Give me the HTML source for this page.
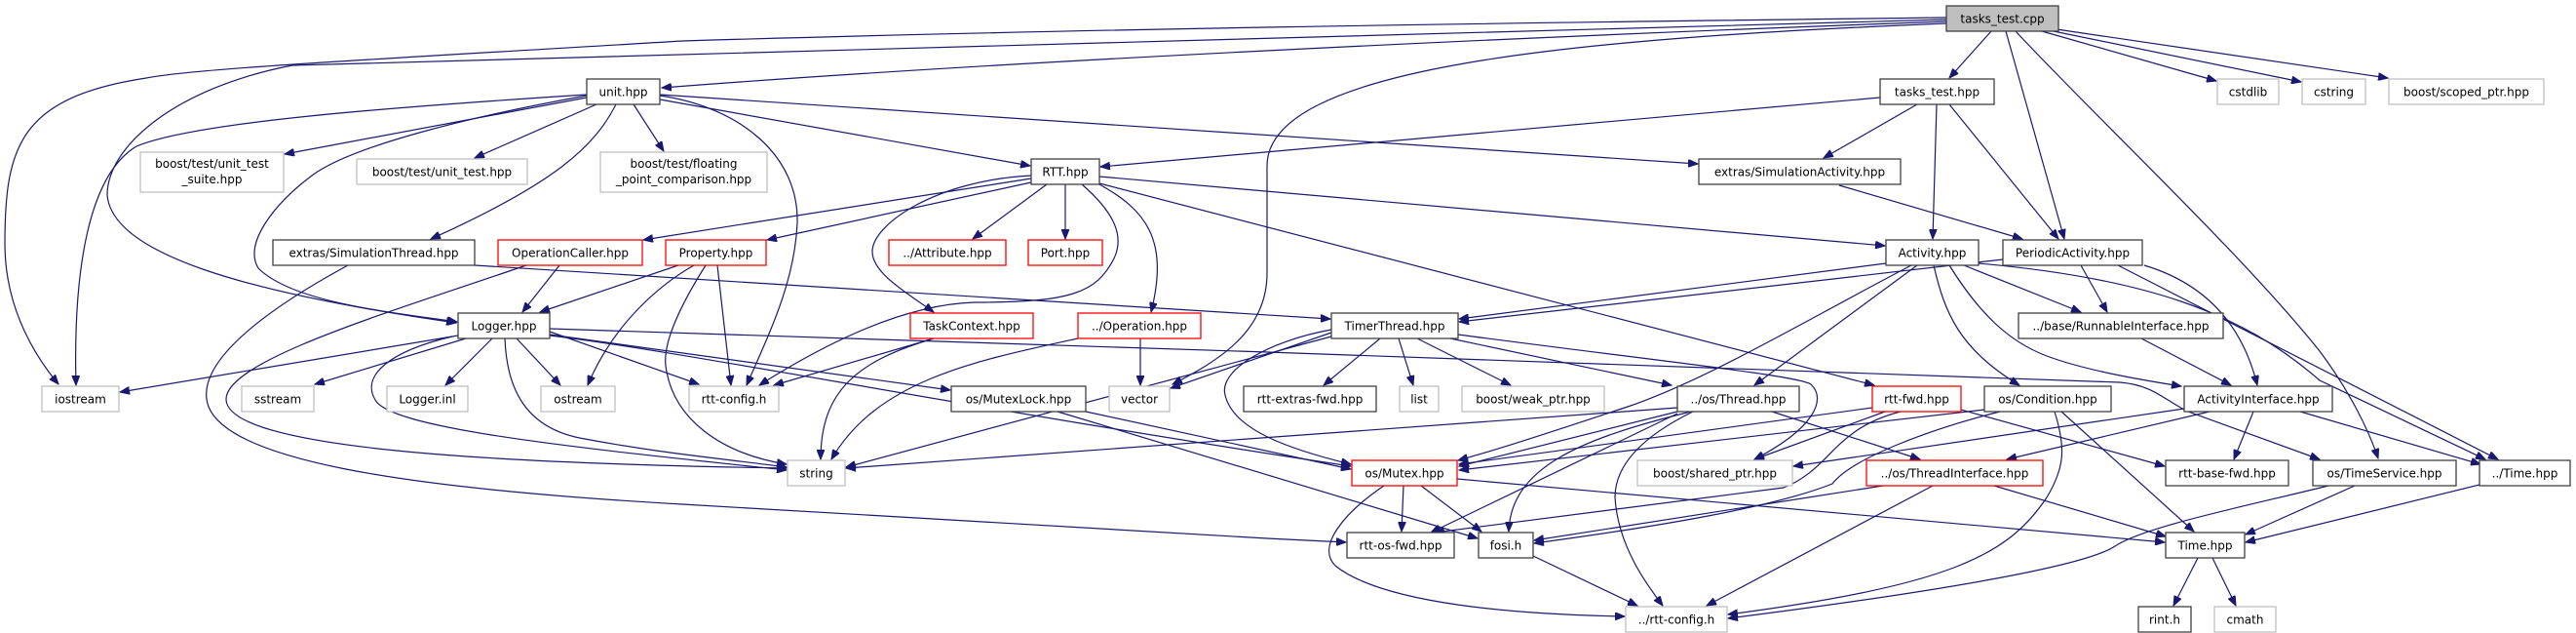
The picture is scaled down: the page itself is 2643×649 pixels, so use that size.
<!DOCTYPE html>
<html><head><meta charset="utf-8"><style>
html,body{margin:0;padding:0;background:#fff;}
svg{display:block;}
text{font-family:"DejaVu Sans","Liberation Sans",sans-serif;font-size:12px;fill:#000;text-anchor:middle;}
.b{fill:#fff;stroke:#404040;stroke-width:1.3;}
.g{fill:#fff;stroke:#bfbfbf;stroke-width:1.3;}
.r{fill:#fff;stroke:#ff0000;stroke-width:1.3;}
.e{fill:none;stroke:#191970;stroke-width:1.2;marker-end:url(#a);}
</style></head><body>
<svg width="2643" height="649" viewBox="0 0 2643 649" xmlns="http://www.w3.org/2000/svg">
<defs><marker id="a" markerUnits="userSpaceOnUse" markerWidth="11" markerHeight="8" refX="10" refY="4" orient="auto"><path d="M0,0 L10,4 L0,8 z" fill="#191970" stroke="#191970"/></marker></defs>
<g>
<path class="e" d="M1997,18 C1500,24 1100,30 700,42 C400,60 200,70 150,80 C20,100 5,150 5,250 C5,320 40,370 60,394"/>
<path class="e" d="M1997,20 C1500,30 900,55 300,67 C180,90 110,150 110,200 C115,260 250,300 468,331"/>
<path class="e" d="M1997,24 C1600,40 1300,70 1300,170 L1300,280 C1300,340 1250,370 1203,394"/>
<path class="e" d="M1997,22 C1500,40 1000,65 679,90"/>
<path class="e" d="M2043,32 L2000,80"/>
<path class="e" d="M2058,32 L2118,245"/>
<path class="e" d="M2068,32 C2150,120 2300,260 2380,360 C2410,400 2430,440 2440,470"/>
<path class="e" d="M2095,32 L2274,83"/>
<path class="e" d="M2102,31 L2361,84"/>
<path class="e" d="M2110,30 L2450,80"/>
<path class="e" d="M602,100 L292,158"/>
<path class="e" d="M612,107 L487,162"/>
<path class="e" d="M650,107 L681,155"/>
<path class="e" d="M632,107 C610,150 571,187 442,245"/>
<path class="e" d="M602,98 C480,120 360,150 320,180 C280,210 250,250 265,275 C300,310 400,320 469,330"/>
<path class="e" d="M602,97 C400,110 200,125 140,150 C90,180 75,280 78,395"/>
<path class="e" d="M677,98 C760,110 820,160 818,229 C815,290 790,340 766,395"/>
<path class="e" d="M677,102 L1057,170"/>
<path class="e" d="M677,97 L1742,168"/>
<path class="e" d="M1929,100 L1129,171"/>
<path class="e" d="M1967,107 L1871,162"/>
<path class="e" d="M1987,107 L1983,245"/>
<path class="e" d="M2000,107 L2112,245"/>
<path class="e" d="M1887,190 L2075,245"/>
<path class="e" d="M1058,183 L660,246"/>
<path class="e" d="M1058,187 L787,246"/>
<path class="e" d="M1058,180 C960,185 895,230 895,258 C895,280 930,300 958,320"/>
<path class="e" d="M1074,189 L998,245"/>
<path class="e" d="M1093,189 L1093,245"/>
<path class="e" d="M1110,189 C1140,215 1155,240 1143,265 C1125,300 1100,310 1000,310 C930,312 850,350 779,395"/>
<path class="e" d="M1128,189 C1175,215 1200,245 1181,320"/>
<path class="e" d="M1128,181 L1934,252"/>
<path class="e" d="M1128,188 L1923,395"/>
<path class="e" d="M487,272 L1365,327"/>
<path class="e" d="M357,272 C250,330 200,380 214,417 C235,470 400,500 700,517 L1300,552 L1381,556"/>
<path class="e" d="M574,272 L536,320"/>
<path class="e" d="M540,272 C400,320 230,370 232,410 C235,460 500,475 807,480"/>
<path class="e" d="M696,272 L554,320"/>
<path class="e" d="M712,272 C680,290 630,330 603,395"/>
<path class="e" d="M736,272 L750,395"/>
<path class="e" d="M724,272 C700,310 680,350 683,375 C690,430 740,465 807,476"/>
<path class="e" d="M470,344 L123,402"/>
<path class="e" d="M478,347 L323,394"/>
<path class="e" d="M505,347 L457,395"/>
<path class="e" d="M530,347 L575,395"/>
<path class="e" d="M564,340 L717,394"/>
<path class="e" d="M518,347 C520,400 540,440 600,450 C680,465 740,470 807,479"/>
<path class="e" d="M464,345 C400,360 370,385 385,410 C400,440 600,460 807,482"/>
<path class="e" d="M564,343 L975,400"/>
<path class="e" d="M564,344 C700,360 1000,420 1386,478"/>
<path class="e" d="M564,337 L1300,361 L2175,392 C2210,395 2220,410 2245,422 L2380,471"/>
<path class="e" d="M958,347 L794,395"/>
<path class="e" d="M958,347 C880,370 842,400 842,471"/>
<path class="e" d="M1170,347 L1170,395"/>
<path class="e" d="M1106,347 C1000,370 900,390 853,471"/>
<path class="e" d="M1114,422 L1386,481"/>
<path class="e" d="M1085,422 L1516,552"/>
<path class="e" d="M1366,341 L1201,398"/>
<path class="e" d="M1366,345 L868,479"/>
<path class="e" d="M1366,338 C1300,350 1250,380 1257,405 C1265,440 1320,460 1386,476"/>
<path class="e" d="M1416,347 L1358,395"/>
<path class="e" d="M1435,347 L1450,395"/>
<path class="e" d="M1454,347 L1550,395"/>
<path class="e" d="M1488,347 L1715,395"/>
<path class="e" d="M1496,343 C1700,370 1845,385 1858,394 C1875,410 1860,440 1800,471"/>
<path class="e" d="M1935,270 L1497,327"/>
<path class="e" d="M1961,272 C1850,330 1750,390 1670,417 C1600,440 1540,460 1496,472"/>
<path class="e" d="M1967,272 L1800,395"/>
<path class="e" d="M1984,272 C1995,320 2010,358 2072,395"/>
<path class="e" d="M2000,272 C2030,320 2060,350 2100,365 C2140,380 2200,390 2238,396"/>
<path class="e" d="M2015,272 L2135,320"/>
<path class="e" d="M2030,270 C2200,285 2300,320 2380,390 L2550,471"/>
<path class="e" d="M2055,266 L1497,330"/>
<path class="e" d="M2135,272 L2162,320"/>
<path class="e" d="M2200,272 C2260,290 2300,330 2316,395"/>
<path class="e" d="M2173,272 L2563,471"/>
<path class="e" d="M2197,347 L2289,395"/>
<path class="e" d="M2036,420 L1497,482"/>
<path class="e" d="M2052,422 C1980,440 1900,470 1880,496 C1820,520 1700,540 1574,557"/>
<path class="e" d="M2115,422 L2251,545"/>
<path class="e" d="M2108,422 C2120,460 2118,480 2100,510 C2060,570 2000,600 1773,630"/>
<path class="e" d="M2267,422 L2059,471"/>
<path class="e" d="M2241,419 L1840,478"/>
<path class="e" d="M2312,422 L2292,471"/>
<path class="e" d="M2360,422 L2545,476"/>
<path class="e" d="M1921,418 L1497,476"/>
<path class="e" d="M1934,422 L1800,471"/>
<path class="e" d="M2012,420 L2221,478"/>
<path class="e" d="M1950,422 C1880,440 1880,480 1830,500 L1472,546"/>
<path class="e" d="M1721,418 L868,480"/>
<path class="e" d="M1721,422 L1497,478"/>
<path class="e" d="M1721,424 L1468,546"/>
<path class="e" d="M1735,422 C1620,450 1550,480 1548,545"/>
<path class="e" d="M1737,422 C1680,450 1657,480 1657,510 C1660,560 1690,600 1706,621"/>
<path class="e" d="M1818,422 L1970,471"/>
<path class="e" d="M1440,498 L1438,545"/>
<path class="e" d="M1458,498 L1520,545"/>
<path class="e" d="M1495,491 L2221,556"/>
<path class="e" d="M1420,498 C1380,525 1350,560 1370,580 C1420,620 1560,630 1667,632"/>
<path class="e" d="M1932,498 L1574,554"/>
<path class="e" d="M1983,498 L1751,621"/>
<path class="e" d="M2046,498 L2222,550"/>
<path class="e" d="M1573,570 L1680,621"/>
<path class="e" d="M2416,498 L2304,548"/>
<path class="e" d="M2389,498 C2300,520 2200,540 2170,560 C2140,580 2000,605 1773,634"/>
<path class="e" d="M2544,497 L2304,556"/>
<path class="e" d="M2255,572 L2230,621"/>
<path class="e" d="M2270,572 L2294,621"/>
</g>
<g>
<rect x="1997" y="6" width="115" height="26" style="fill:#bfbfbf;stroke:#404040;stroke-width:1.3"/><text x="2054.5" y="23.5">tasks_test.cpp</text>
<rect class="b" x="602" y="81" width="75" height="26"/><text x="639.5" y="98.5">unit.hpp</text>
<rect class="g" x="144" y="156" width="147" height="41"/><text x="217.5" y="172">boost/test/unit_test</text><text x="217.5" y="188">_suite.hpp</text>
<rect class="g" x="366" y="163" width="175" height="26"/><text x="453.5" y="180.5">boost/test/unit_test.hpp</text>
<rect class="g" x="616" y="156" width="171" height="41"/><text x="701.5" y="172">boost/test/floating</text><text x="701.5" y="188">_point_comparison.hpp</text>
<rect class="b" x="280" y="246" width="207" height="26"/><text x="383.5" y="263.5">extras/SimulationThread.hpp</text>
<rect class="r" x="511" y="246" width="148" height="26"/><text x="585" y="263.5">OperationCaller.hpp</text>
<rect class="r" x="683" y="246" width="103" height="26"/><text x="734.5" y="263.5">Property.hpp</text>
<rect class="b" x="470" y="321" width="94" height="26"/><text x="517" y="338.5">Logger.hpp</text>
<rect class="g" x="43" y="396" width="79" height="26"/><text x="82.5" y="413.5">iostream</text>
<rect class="g" x="248" y="396" width="74" height="26"/><text x="285" y="413.5">sstream</text>
<rect class="g" x="397" y="396" width="83" height="26"/><text x="438.5" y="413.5">Logger.inl</text>
<rect class="g" x="555" y="396" width="76" height="26"/><text x="593" y="413.5">ostream</text>
<rect class="g" x="707" y="396" width="92" height="26"/><text x="753" y="413.5">rtt-config.h</text>
<rect class="b" x="976" y="396" width="138" height="26"/><text x="1045" y="413.5">os/MutexLock.hpp</text>
<rect class="g" x="1138" y="396" width="62" height="26"/><text x="1169" y="413.5">vector</text>
<rect class="g" x="808" y="472" width="59" height="26"/><text x="837.5" y="489.5">string</text>
<rect class="b" x="1058" y="163" width="70" height="26"/><text x="1093" y="180.5">RTT.hpp</text>
<rect class="r" x="912" y="246" width="120" height="26"/><text x="972" y="263.5">../Attribute.hpp</text>
<rect class="r" x="1055" y="246" width="76" height="26"/><text x="1093" y="263.5">Port.hpp</text>
<rect class="r" x="934" y="321" width="126" height="26"/><text x="997" y="338.5">TaskContext.hpp</text>
<rect class="r" x="1106" y="321" width="126" height="26"/><text x="1169" y="338.5">../Operation.hpp</text>
<rect class="b" x="1929" y="81" width="117" height="26"/><text x="1987.5" y="98.5">tasks_test.hpp</text>
<rect class="b" x="1743" y="163" width="207" height="26"/><text x="1846.5" y="180.5">extras/SimulationActivity.hpp</text>
<rect class="b" x="1935" y="246" width="95" height="26"/><text x="1982.5" y="263.5">Activity.hpp</text>
<rect class="b" x="1366" y="321" width="130" height="26"/><text x="1431" y="338.5">TimerThread.hpp</text>
<rect class="b" x="1276" y="396" width="136" height="26"/><text x="1344" y="413.5">rtt-extras-fwd.hpp</text>
<rect class="g" x="1436" y="396" width="40" height="26"/><text x="1456" y="413.5">list</text>
<rect class="g" x="1500" y="396" width="146" height="26"/><text x="1573" y="413.5">boost/weak_ptr.hpp</text>
<rect class="b" x="1721" y="396" width="125" height="26"/><text x="1783.5" y="413.5">../os/Thread.hpp</text>
<rect class="r" x="1921" y="396" width="91" height="26"/><text x="1966.5" y="413.5">rtt-fwd.hpp</text>
<rect class="r" x="1387" y="472" width="108" height="26"/><text x="1441" y="489.5">os/Mutex.hpp</text>
<rect class="g" x="1680" y="472" width="159" height="26"/><text x="1759.5" y="489.5">boost/shared_ptr.hpp</text>
<rect class="r" x="1915" y="472" width="181" height="26"/><text x="2005.5" y="489.5">../os/ThreadInterface.hpp</text>
<rect class="b" x="1382" y="546" width="110" height="26"/><text x="1437" y="563.5">rtt-os-fwd.hpp</text>
<rect class="b" x="1517" y="546" width="56" height="26"/><text x="1545" y="563.5">fosi.h</text>
<rect class="g" x="1668" y="622" width="104" height="26"/><text x="1720" y="639.5">../rtt-config.h</text>
<rect class="g" x="2275" y="81" width="63" height="26"/><text x="2306.5" y="98.5">cstdlib</text>
<rect class="g" x="2362" y="81" width="65" height="26"/><text x="2394.5" y="98.5">cstring</text>
<rect class="g" x="2451" y="81" width="159" height="26"/><text x="2530.5" y="98.5">boost/scoped_ptr.hpp</text>
<rect class="b" x="2055" y="246" width="143" height="26"/><text x="2126.5" y="263.5">PeriodicActivity.hpp</text>
<rect class="b" x="2071" y="321" width="210" height="26"/><text x="2176" y="338.5">../base/RunnableInterface.hpp</text>
<rect class="b" x="2036" y="396" width="130" height="26"/><text x="2101" y="413.5">os/Condition.hpp</text>
<rect class="b" x="2241" y="396" width="152" height="26"/><text x="2317" y="413.5">ActivityInterface.hpp</text>
<rect class="b" x="2222" y="472" width="126" height="26"/><text x="2285" y="489.5">rtt-base-fwd.hpp</text>
<rect class="b" x="2373" y="472" width="147" height="26"/><text x="2446.5" y="489.5">os/TimeService.hpp</text>
<rect class="b" x="2544" y="472" width="93" height="26"/><text x="2590.5" y="489.5">../Time.hpp</text>
<rect class="b" x="2222" y="546" width="81" height="26"/><text x="2262.5" y="563.5">Time.hpp</text>
<rect class="b" x="2194" y="622" width="54" height="26"/><text x="2221" y="639.5">rint.h</text>
<rect class="g" x="2272" y="622" width="63" height="26"/><text x="2303.5" y="639.5">cmath</text>
</g>
</svg>
</body></html>
